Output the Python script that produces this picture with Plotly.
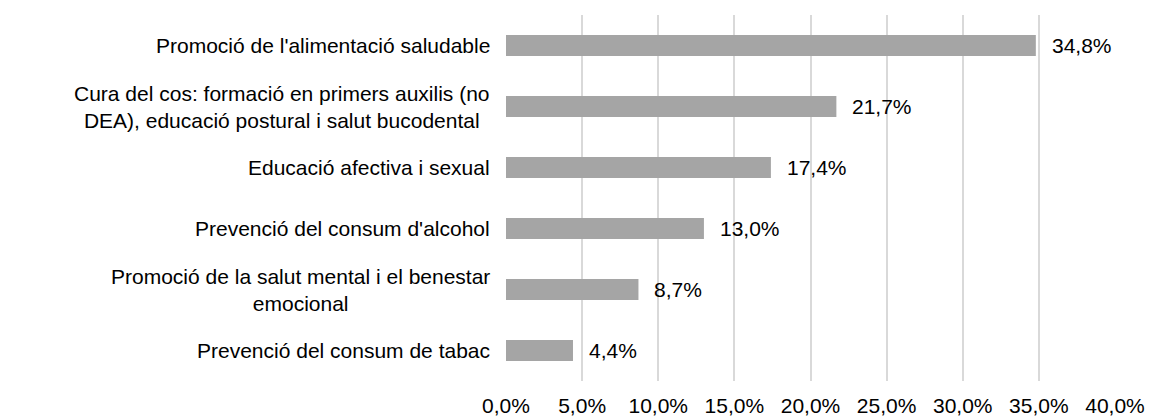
import plotly.graph_objects as go

categories = [
    "Promoció de l'alimentació saludable",
    "Cura del cos: formació en primers auxilis (no<br>DEA), educació postural i salut bucodental",
    "Educació afectiva i sexual",
    "Prevenció del consum d'alcohol",
    "Promoció de la salut mental i el benestar<br>emocional",
    "Prevenció del consum de tabac",
]
values = [34.8, 21.7, 17.4, 13.0, 8.7, 4.4]
value_labels = ["34,8%", "21,7%", "17,4%", "13,0%", "8,7%", "4,4%"]
tick_vals = [0, 5, 10, 15, 20, 25, 30, 35, 40]
tick_labels = ["0,0%", "5,0%", "10,0%", "15,0%", "20,0%", "25,0%", "30,0%", "35,0%", "40,0%"]

FONT = "Liberation Sans, Arial, sans-serif"
FS = 21

fig = go.Figure()
fig.add_trace(go.Bar(
    y=categories, x=values, orientation="h",
    marker=dict(color="#a5a5a5", line=dict(width=0)),
    hoverinfo="skip",
))

annotations = []
for c, v, t in zip(categories, values, value_labels):
    annotations.append(dict(x=v, y=c, xref="x", yref="y", text=t, showarrow=False,
                            xanchor="left", xshift=14,
                            font=dict(family=FONT, size=FS, color="#000000")))
    annotations.append(dict(x=0, y=c, xref="paper", yref="y", text=c, showarrow=False,
                            xanchor="right", yanchor="middle", align="center", xshift=-14,
                            font=dict(family=FONT, size=FS, color="#000000")))

fig.update_layout(
    width=1145, height=411,
    margin=dict(l=498, r=38, t=7, b=38, pad=0),
    paper_bgcolor="white", plot_bgcolor="white",
    bargap=0.655,
    showlegend=False,
    font=dict(family=FONT, size=FS, color="#000000"),
    xaxis=dict(range=[0, 40], tickvals=tick_vals, ticktext=tick_labels,
               showgrid=True, gridcolor="#d9d9d9", gridwidth=1.5, zeroline=False,
               showline=False, ticks="", ticklabelstandoff=10, automargin=False,
               fixedrange=True),
    yaxis=dict(autorange="reversed", showticklabels=False, showgrid=False,
               zeroline=False, showline=False, ticks="", automargin=False),
    annotations=annotations,
)

fig.write_html("out.html")
